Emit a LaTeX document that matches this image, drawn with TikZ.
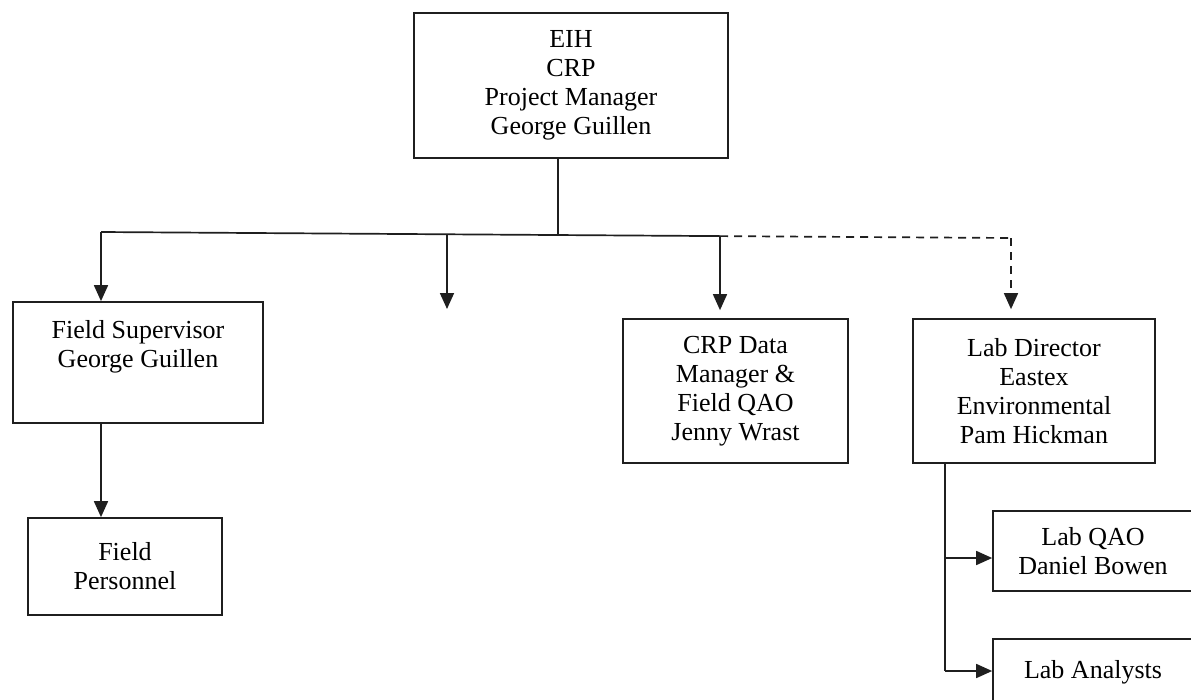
\documentclass[tikz,border=0pt]{standalone}
\usepackage{fontspec}
\setmainfont{Liberation Serif}
\usetikzlibrary{arrows.meta}
\tikzset{
  ink/.style={draw=black!88, line width=1.7pt},
  box/.style={ink, rectangle, inner sep=0pt, align=center,
    font=\fontsize{26}{29}\selectfont},
  label text/.style={inner sep=0pt, align=center, font=\fontsize{26}{29}\selectfont},
  link/.style={ink, -{Triangle[length=16pt,width=14pt]}},
  dashlink/.style={link, dash pattern=on 8pt off 6pt},
}
\begin{document}
\begin{tikzpicture}[x=1pt, y=-1pt]
  \useasboundingbox (0,0) rectangle (1191,699);

  % boxes
  \node[box, minimum width=314pt, minimum height=145pt] (pm) at (571,85.5)
    {EIH\\CRP\\Project Manager\\George Guillen};
  \node[box, minimum width=250pt, minimum height=121pt] (fs) at (138,362.5) {};
  \node[label text, anchor=north] (fstext) at (138,320)
    {Field Supervisor\\George Guillen};
  \node[box, minimum width=194pt, minimum height=97pt] (fp) at (125,566.5)
    {Field\\Personnel};
  \node[box, minimum width=225pt, minimum height=144pt] (crp) at (735.5,391)
    {CRP Data\\Manager \&\\Field QAO\\Jenny Wrast};
  \node[box, minimum width=242pt, minimum height=144pt] (lab) at (1034,391)
    {Lab Director\\Eastex\\Environmental\\Pam Hickman};
  \node[box, minimum width=200pt, minimum height=80pt] (qao) at (1093,551)
    {Lab QAO\\Daniel Bowen};
  \node[box, minimum width=200pt, minimum height=66pt] (ana) at (1093,672)
    {Lab Analysts};

  % distribution bus below the project manager
  \coordinate (trunk) at (558,235);
  \coordinate (busL) at (101,232);
  \coordinate (busM) at (447,234.3);
  \coordinate (busC) at (720,236.1);
  \coordinate (busR) at (1011,238);
  \coordinate (midEnd) at (447,309);

  \draw[ink] (pm.south -| trunk) -- (trunk);
  \draw[ink] (busL) -- (busC);
  \draw[ink, dash pattern=on 8pt off 6pt] (busC) -- (busR);

  \draw[link] (busL) -- (busL |- fs.north);
  \draw[link] (busM) -- (midEnd);
  \draw[link, shorten >=8pt] (busC) -- (busC |- crp.north);
  \draw[dashlink, shorten >=9pt] (busR) -- (busR |- lab.north);

  % field branch
  \draw[link] (busL |- fs.south) -- (busL |- fp.north);

  % laboratory branch
  \coordinate (labTrunk) at (945,463);
  \coordinate (toQao) at (945,558);
  \coordinate (toAna) at (945,671);
  \draw[ink] (labTrunk |- lab.south) -- (toAna);
  \draw[link] (toQao) -- (toQao -| qao.west);
  \draw[link] (toAna) -- (toAna -| ana.west);
\end{tikzpicture}
\end{document}
